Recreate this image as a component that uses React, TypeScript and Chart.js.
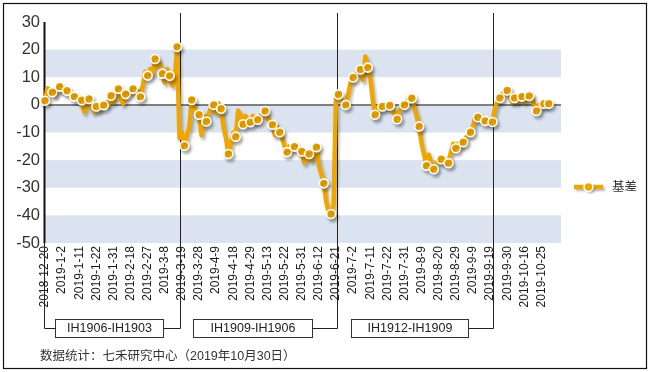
import React, { useEffect, useRef } from 'react';
import { Chart, registerables } from 'chart.js';

Chart.register(...registerables);

const tickLabels: string[] = [
  '2018-12-20', '2019-1-2', '2019-1-11', '2019-1-22', '2019-1-31', '2019-2-18',
  '2019-2-27', '2019-3-8', '2019-3-19', '2019-3-28', '2019-4-9', '2019-4-18',
  '2019-4-29', '2019-5-13', '2019-5-22', '2019-5-31', '2019-6-12', '2019-6-21',
  '2019-7-2', '2019-7-11', '2019-7-22', '2019-7-31', '2019-8-9', '2019-8-20',
  '2019-8-29', '2019-9-9', '2019-9-19', '2019-9-30', '2019-10-16', '2019-10-25',
];
const tickEvery = 7;

// daily basis values, 2018-12-20 .. 2019-10-30 (207 trading days)
const basis: number[] = [
  1.5, 6, 5.5, 4.6, 3.5, 5.5, 6.6, 5, 6, 5.1,
  4, 3.5, 3.0, 2, 2.5, 1.7, -2.5, 0.5, 2.1, -1,
  -2.5, -0.6, -2, 0.5, -0.1, 1, 0, 3.3, 1, 4,
  5.8, 2, 0.5, 3.9, 4, 6, 5.8, 4, 5, 2.9,
  7, 12, 10.6, 13, 11, 16.6, 14, 15, 11.3, 8,
  13, 10.5, 7, 8, 21, -12, -10, -14.8, -11, -8,
  1.8, -1, -3, -3.6, -11, -4, -6.0, -3, -1, 0,
  -3, 0.5, -1.4, -8, -12, -17.8, -14, -10, -11.5, -2,
  -4, -7.0, -4, -5.5, -6.3, -4, -6, -5.4, -4, -3,
  -2.2, -5, -6, -7.2, -11, -8, -9.9, -12, -15, -17.1,
  -15, -16, -15.1, -16, -17, -16.9, -21, -19, -17.8, -20,
  -17, -15.3, -22, -25, -28.4, -35, -39, -39.5, -36, 3,
  3.8, 2, 1, 0, 4, 8, 9.9, 11, 12, 12.8,
  9, 17.5, 13.5, 10, 2, -3.6, -1, -2, -0.6, 0,
  -0.5, -0.2, -2, -3, -5.2, -2, -1, 0, 1, 3,
  2.4, -1, -4, -7.8, -14, -18, -22, -18, -22, -23.3,
  -21, -20, -19.7, -21, -20, -21.1, -17, -14, -15.7, -14,
  -15, -13.5, -12, -11, -9.9, -8, -4, -4.5, -4, -5,
  -5.8, -6, -5.5, -6.2, -1, 1, 2.5, 4, 5, 5.2,
  3, 1, 2.5, 1, 2, 3.0, 1, 2, 3.2, 3,
  0, -2.2, 0, -1, 0.4, 1, 0.4,
];

const seriesName = '基差';
const contracts: string[] = ['IH1906-IH1903', 'IH1909-IH1906', 'IH1912-IH1909'];
const rollIndex: number[] = [55, 119.3, 183];
const sourceNote = '数据统计：七禾研究中心（2019年10月30日）';

const ORANGE = '#F0A600';
const BAND = '#DAE3EF';
const LATIN = '"Liberation Sans", Arial, sans-serif';
const CJK = '"Liberation Sans", "Noto Sans CJK SC", sans-serif';
const MARKER_R = 4.5;

const shadowPlugin = {
  id: 'shadow',
  beforeDatasetDraw(chart: any) {
    const ctx = chart.ctx;
    ctx.save();
    ctx.shadowColor = 'rgba(0,0,0,0.28)';
    ctx.shadowOffsetX = 2;
    ctx.shadowOffsetY = 3;
    ctx.shadowBlur = 3;
  },
  afterDatasetDraw(chart: any) {
    chart.ctx.restore();
  },
};

const decorPlugin = {
  id: 'decor',
  beforeDraw(chart: any) {
    const { ctx, chartArea, scales } = chart;
    const { left, right } = chartArea;
    const y = scales.y;
    ctx.save();
    ctx.fillStyle = '#ffffff';
    ctx.fillRect(0, 0, chart.width, chart.height);
    ctx.fillStyle = BAND;
    const bands = [[10, 20], [-10, 0], [-30, -20], [-50, -40]];
    for (const [a, b] of bands) {
      const yt = y.getPixelForValue(b);
      const yb = y.getPixelForValue(a);
      ctx.fillRect(left, yt, right - left, yb - yt);
    }
    ctx.strokeStyle = '#5a5a5a';
    ctx.lineWidth = 1.5;
    const y0 = y.getPixelForValue(0);
    ctx.beginPath();
    ctx.moveTo(left, y0);
    ctx.lineTo(right, y0);
    ctx.stroke();
    ctx.restore();
  },
  beforeDatasetsDraw(chart: any) {
    const { ctx, chartArea, scales } = chart;
    const { left, top, bottom } = chartArea;
    const x = scales.x;
    const bracketY = 328.5;
    const boxTop = 319.5;
    const boxH = 18;
    const boxes = [[55, 163], [193, 312], [351, 468]];
    ctx.save();
    ctx.strokeStyle = '#111';
    ctx.lineWidth = 2;
    ctx.beginPath();
    ctx.moveTo(left - 0.5, top);
    ctx.lineTo(left - 0.5, bottom);
    ctx.stroke();
    ctx.lineWidth = 1;
    ctx.strokeStyle = '#222';
    ctx.beginPath();
    ctx.moveTo(left - 0.5, bottom);
    ctx.lineTo(left - 0.5, bracketY);
    ctx.lineTo(boxes[0][0], bracketY);
    ctx.stroke();
    rollIndex.forEach((r, i) => {
      const px = Math.round(x.getPixelForValue(r)) + 0.5;
      ctx.beginPath();
      ctx.moveTo(px, 13);
      ctx.lineTo(px, bracketY);
      ctx.lineTo(boxes[i][1], bracketY);
      ctx.stroke();
    });
    ctx.font = `12.5px ${LATIN}`;
    ctx.textAlign = 'center';
    ctx.textBaseline = 'middle';
    contracts.forEach((c, i) => {
      const [l, r] = boxes[i];
      ctx.fillStyle = '#fff';
      ctx.fillRect(l + 0.5, boxTop, r - l, boxH);
      ctx.strokeStyle = '#333';
      ctx.strokeRect(l + 0.5, boxTop, r - l, boxH);
      ctx.fillStyle = '#222';
      ctx.fillText(c, (l + r) / 2 + 0.5, boxTop + boxH / 2 + 0.5);
    });
    ctx.restore();
  },
  afterDraw(chart: any) {
    const { ctx } = chart;
    ctx.save();
    const ly = 187;
    ctx.shadowColor = 'rgba(0,0,0,0.25)';
    ctx.shadowOffsetX = 2;
    ctx.shadowOffsetY = 2;
    ctx.shadowBlur = 2;
    ctx.strokeStyle = ORANGE;
    ctx.lineWidth = 4.5;
    ctx.beginPath();
    ctx.moveTo(574, ly);
    ctx.lineTo(603, ly);
    ctx.stroke();
    ctx.beginPath();
    ctx.arc(588.5, ly, MARKER_R, 0, Math.PI * 2);
    ctx.fillStyle = ORANGE;
    ctx.fill();
    ctx.shadowColor = 'transparent';
    ctx.lineWidth = 1.6;
    ctx.strokeStyle = '#fff';
    ctx.stroke();
    ctx.fillStyle = '#333';
    ctx.font = `12.5px ${CJK}`;
    ctx.textAlign = 'left';
    ctx.textBaseline = 'middle';
    ctx.fillText(seriesName, 612, ly + 0.5);
    ctx.fillStyle = '#333';
    ctx.font = `12.5px ${CJK}`;
    ctx.fillText(sourceNote, 40, 357);
    ctx.strokeStyle = '#111';
    ctx.lineWidth = 1.2;
    ctx.strokeRect(3.5, 3.5, 643, 365);
    ctx.restore();
  },
};

export default function App() {
  const ref = useRef<HTMLCanvasElement>(null);
  useEffect(() => {
    const canvas = ref.current;
    if (!canvas) return;
    const lastIdx = basis.length - 1;
    const radii = basis.map((_, i) => (i % 3 === 0 || i === lastIdx ? MARKER_R : 0));
    const chart = new Chart(canvas, {
      type: 'line',
      data: {
        datasets: [
          {
            label: seriesName,
            data: basis.map((v, i) => ({ x: i, y: v })),
            borderColor: ORANGE,
            borderWidth: 4.5,
            borderJoinStyle: 'round',
            borderCapStyle: 'round',
            tension: 0,
            pointRadius: radii,
            pointHoverRadius: radii,
            pointBackgroundColor: ORANGE,
            pointBorderColor: '#ffffff',
            pointBorderWidth: 1.6,
            clip: false,
          } as any,
        ],
      },
      options: {
        responsive: false,
        animation: false,
        devicePixelRatio: 1,
        layout: { padding: { left: 0, top: 22, right: 90, bottom: 0 } },
        plugins: {
          legend: { display: false },
          tooltip: { enabled: false },
          title: { display: false },
        },
        events: [],
        scales: {
          x: {
            type: 'linear',
            min: 0,
            max: 211,
            grid: { display: false, drawTicks: false },
            border: { display: false },
            afterBuildTicks: (scale: any) => {
              scale.ticks = tickLabels.map((_, i) => ({ value: i * tickEvery }));
            },
            afterFit: (scale: any) => {
              scale.height = 129;
            },
            ticks: {
              autoSkip: false,
              minRotation: 90,
              maxRotation: 90,
              padding: 3,
              color: '#1a1a1a',
              font: { family: LATIN, size: 12 },
              callback: (v: any) => tickLabels[Math.round(Number(v) / tickEvery)] ?? '',
            },
          },
          y: {
            min: -50,
            max: 30,
            grid: { display: false, drawTicks: false },
            border: { display: false },
            afterFit: (scale: any) => {
              scale.width = 45;
            },
            ticks: {
              stepSize: 10,
              padding: 5,
              color: '#333',
              font: { family: LATIN, size: 16.5 },
            },
          },
        },
      },
      plugins: [decorPlugin, shadowPlugin],
    } as any);
    return () => chart.destroy();
  }, []);
  return (
    <div style={{ position: 'absolute', left: 0, top: 0, width: 651, height: 372, background: '#fff' }}>
      <canvas ref={ref} width={651} height={372} style={{ display: 'block', width: 651, height: 372 }} />
    </div>
  );
}
